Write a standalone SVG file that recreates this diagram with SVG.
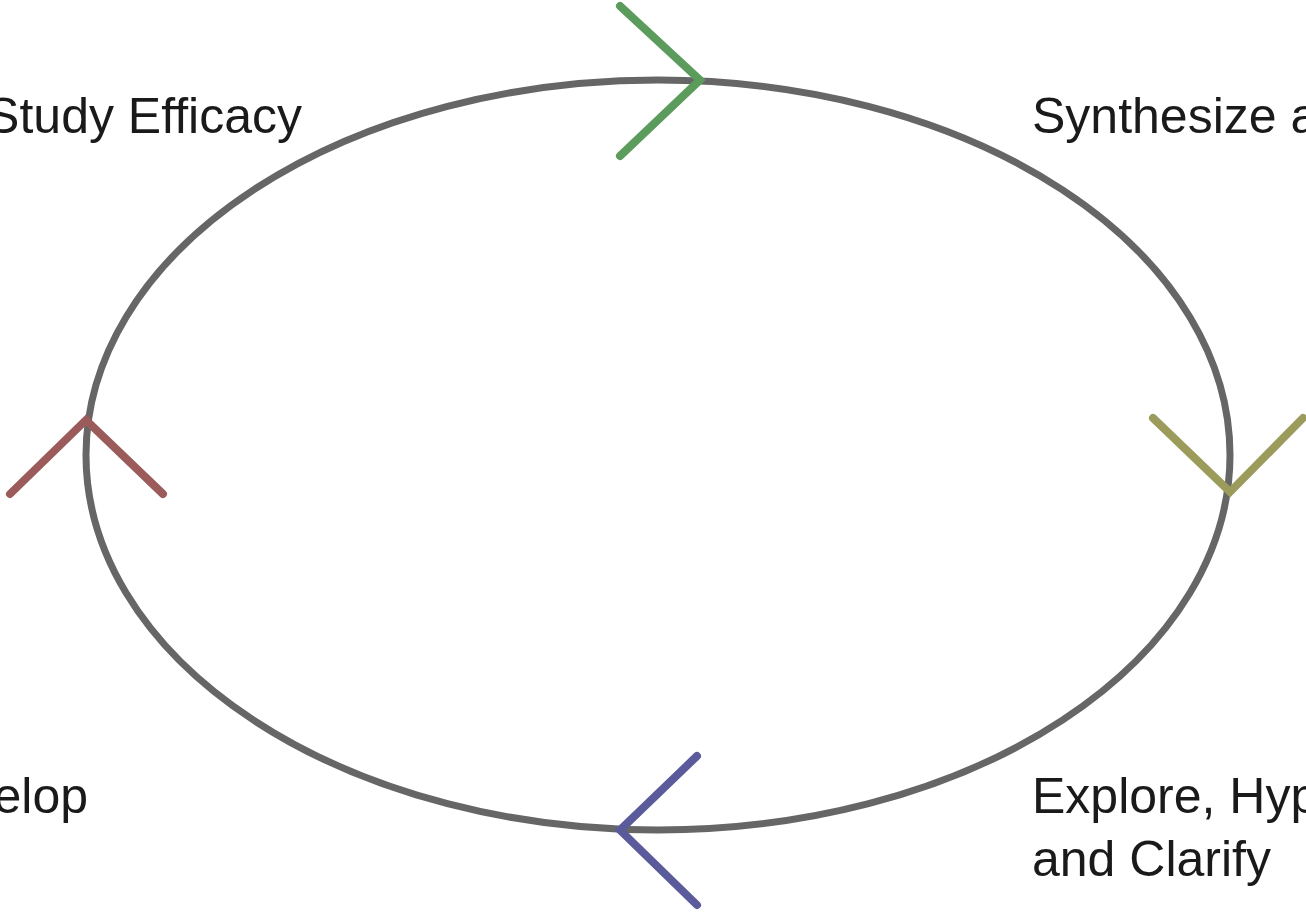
<svg xmlns="http://www.w3.org/2000/svg" width="1306" height="913" viewBox="0 0 1306 913">
<style>
.lbl{font-family:"Liberation Sans",Arial,sans-serif;font-size:50px;fill:#1a1a1a}
.ring{fill:none;stroke:#666666;stroke-width:7}
.chev{fill:none;stroke-width:8;stroke-linecap:round;stroke-linejoin:miter}
</style>
<rect width="1306" height="913" fill="#ffffff"/>
<g id="connectors">
<ellipse class="ring" cx="658" cy="455" rx="572" ry="375"/>
<polyline class="chev" stroke="#5b9b5b" points="620,6 700,80 620,156"/>
<polyline class="chev" stroke="#9b9b5b" points="1153,418 1230,492 1303,418"/>
<polyline class="chev" stroke="#9b5b5b" points="10,494 86,420 163,494"/>
<polyline class="chev" stroke="#5b5b9b" points="697,756 620,830 697,905"/>
</g>
<g id="node-study"><text class="lbl" x="302" y="133" text-anchor="end">Study Efficacy</text></g>
<g id="node-synthesize"><text class="lbl" x="1032" y="133">Synthesize a</text></g>
<g id="node-develop"><text class="lbl" x="88" y="813" text-anchor="end">elop</text></g>
<g id="node-explore"><text class="lbl" x="1032" y="813">Explore, Hyp</text><text class="lbl" x="1032" y="876">and Clarify</text></g>
</svg>
